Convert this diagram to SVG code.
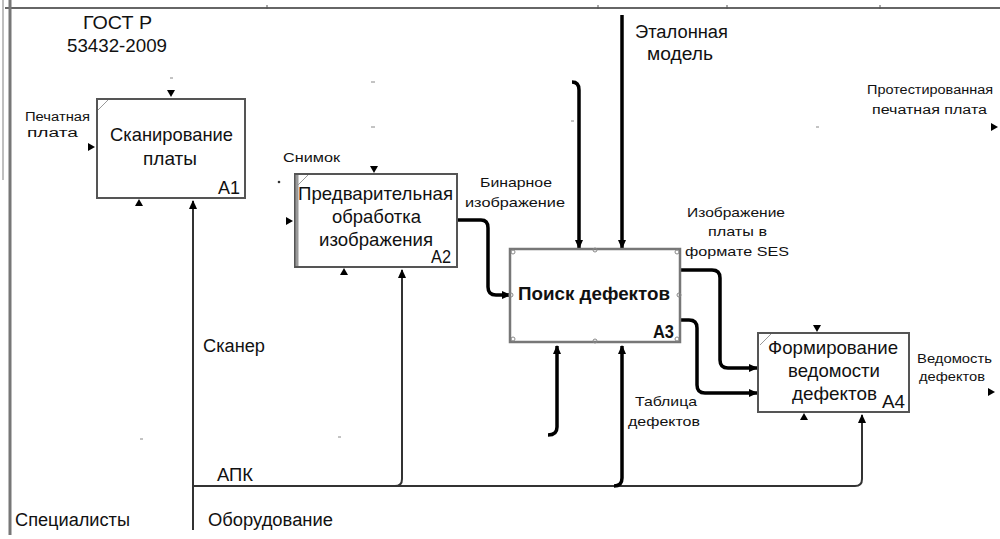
<svg xmlns="http://www.w3.org/2000/svg" width="1000" height="539" viewBox="0 0 1000 539">
<style>
text{font-family:"Liberation Sans",Arial,sans-serif;fill:#111}
.box{fill:#fff;stroke:#555;stroke-width:2}
.bt{font-size:19px}
.lbl{font-size:13px}
.sm{font-size:12.5px}
.mid{font-size:18px}
.thin{fill:none;stroke:#333;stroke-width:2}
.thick{fill:none;stroke:#000;stroke-width:3.5}
.dash{stroke:#888;stroke-width:1}
</style>
<defs>
<marker id="ah" markerUnits="userSpaceOnUse" markerWidth="9" markerHeight="8" refX="8" refY="4" orient="auto"><path d="M0,0 L9,4 L0,8 z" fill="#000"/></marker>
<path id="tri" d="M-4,-7 L4,-7 L0,0 z" fill="#000"/>
</defs>
<rect width="1000" height="539" fill="#fff"/>
<g id="frame">
<path d="M5,8 H1000" stroke="#666" stroke-width="2"/>
<path d="M10,0 V535" stroke="#777" stroke-width="3"/>
<path d="M3,0 V180" stroke="#aaa" stroke-width="1.5"/>
<path d="M267,5 V9 M598,5 V9 M727,5 V9 M880,5 V9" stroke="#555" stroke-width="1"/>
</g>
<g id="connectors">
<path class="thin" d="M193,530 V201" marker-end="url(#ah)"/>
<path class="thin" d="M193,486 H855 Q862,486 862,479 V415" marker-end="url(#ah)"/>
<path class="thin" d="M395,486 Q402,486 402,479 V270" marker-end="url(#ah)"/>
<path class="thick" d="M614,486 Q622,486 622,478 V346" marker-end="url(#ah)"/>
<path class="thick" d="M548,435 Q557,435 557,427 V346" marker-end="url(#ah)"/>
<path class="thick" d="M572,82 Q579,82 579,90 V248" marker-end="url(#ah)"/>
<path class="thick" d="M622,15 V248" marker-end="url(#ah)"/>
<path class="thick" d="M457,220 H481 Q488,220 488,228 V287 Q488,295 496,295 H510" marker-end="url(#ah)"/>
<path class="thick" d="M680,270 H712 Q720,270 720,278 V360 Q720,368 728,368 H757" marker-end="url(#ah)"/>
<path class="thick" d="M680,320 H689 Q697,320 697,328 V385 Q697,393 705,393 H757" marker-end="url(#ah)"/>
<use href="#tri" x="171" y="97"/>
<use href="#tri" transform="translate(95,147) rotate(-90)"/>
<use href="#tri" transform="translate(139,199) rotate(180)"/>
<use href="#tri" x="374" y="173"/>
<use href="#tri" transform="translate(293,221) rotate(-90)"/>
<use href="#tri" transform="translate(344,268) rotate(180)"/>
<use href="#tri" x="817" y="332"/>
<use href="#tri" transform="translate(804,413) rotate(180)"/>
<use href="#tri" transform="translate(998,127) rotate(-90)"/>
<use href="#tri" transform="translate(995,392) rotate(-90)"/>
<path class="dash" d="M170,78 H173 M371,82 H375 M371,127 H375 M816,127 H819 M140,439 H143 M338,437 H341 M571,121 H574"/>
<circle cx="279" cy="182" r="1.3" fill="#333"/>
</g>
<g id="A1">
<rect class="box" x="97" y="99" width="148" height="99"/>
<path d="M98,110 L108,100" stroke="#999" stroke-width="1"/>
<text class="bt" x="110" y="141" textLength="123" lengthAdjust="spacingAndGlyphs">Сканирование</text>
<text class="bt" x="143" y="165" textLength="54" lengthAdjust="spacingAndGlyphs">платы</text>
<text class="bt" x="218" y="194" textLength="22" lengthAdjust="spacingAndGlyphs">A1</text>
</g>
<g id="A2">
<rect class="box" x="295" y="174" width="162" height="93"/>
<path d="M297,175 V266" stroke="#999" stroke-width="3"/>
<path d="M297,186 L308,175" stroke="#999" stroke-width="1"/>
<text class="bt" x="298" y="200" textLength="155" lengthAdjust="spacingAndGlyphs">Предварительная</text>
<text class="bt" x="332" y="223" textLength="89" lengthAdjust="spacingAndGlyphs">обработка</text>
<text class="bt" x="319" y="246" textLength="114" lengthAdjust="spacingAndGlyphs">изображения</text>
<text class="bt" x="431" y="263" textLength="20" lengthAdjust="spacingAndGlyphs">A2</text>
</g>
<g id="A3">
<rect x="510" y="249" width="170" height="93" fill="#fff" stroke="#777" stroke-width="2.5"/>
<g fill="none" stroke="#888" stroke-width="1">
<circle cx="513" cy="252" r="2"/><circle cx="677" cy="252" r="2"/><circle cx="513" cy="339" r="2"/><circle cx="677" cy="339" r="2"/>
<circle cx="595" cy="250" r="2"/><circle cx="595" cy="341" r="2"/><circle cx="511" cy="295" r="2"/><circle cx="679" cy="295" r="2"/>
</g>
<text x="518" y="300" font-size="18" font-weight="bold" textLength="152" lengthAdjust="spacingAndGlyphs">Поиск дефектов</text>
<text x="653" y="338" font-size="18" font-weight="bold" textLength="21" lengthAdjust="spacingAndGlyphs">A3</text>
</g>
<g id="A4">
<rect class="box" x="758" y="333" width="151" height="79"/>
<path d="M760,345 L771,334" stroke="#999" stroke-width="1"/>
<text class="bt" x="768" y="354" textLength="130" lengthAdjust="spacingAndGlyphs">Формирование</text>
<text class="bt" x="788" y="377" textLength="92" lengthAdjust="spacingAndGlyphs">ведомости</text>
<text class="bt" x="792" y="400" textLength="85" lengthAdjust="spacingAndGlyphs">дефектов</text>
<text class="bt" x="882" y="408" textLength="23" lengthAdjust="spacingAndGlyphs">A4</text>
</g>
<g id="labels">
<text class="mid" x="83" y="29" textLength="69" lengthAdjust="spacingAndGlyphs">ГОСТ Р</text>
<text class="mid" x="67" y="52" textLength="100" lengthAdjust="spacingAndGlyphs">53432-2009</text>
<text class="sm" x="25" y="121" textLength="65" lengthAdjust="spacingAndGlyphs">Печатная</text>
<text class="sm" x="27" y="137" textLength="51" lengthAdjust="spacingAndGlyphs">плата</text>
<text class="lbl" x="283" y="162" textLength="57" lengthAdjust="spacingAndGlyphs">Снимок</text>
<text class="lbl" x="480" y="187" textLength="72" lengthAdjust="spacingAndGlyphs">Бинарное</text>
<text class="lbl" x="465" y="207" textLength="100" lengthAdjust="spacingAndGlyphs">изображение</text>
<text class="mid" x="635" y="38" textLength="93" lengthAdjust="spacingAndGlyphs">Эталонная</text>
<text class="mid" x="647" y="60" textLength="66" lengthAdjust="spacingAndGlyphs">модель</text>
<text class="sm" x="867" y="94" textLength="126" lengthAdjust="spacingAndGlyphs">Протестированная</text>
<text class="sm" x="872" y="114" textLength="115" lengthAdjust="spacingAndGlyphs">печатная плата</text>
<text class="lbl" x="687" y="217" textLength="98" lengthAdjust="spacingAndGlyphs">Изображение</text>
<text class="lbl" x="708" y="236" textLength="59" lengthAdjust="spacingAndGlyphs">платы в</text>
<text class="lbl" x="685" y="256" textLength="104" lengthAdjust="spacingAndGlyphs">формате SES</text>
<text class="lbl" x="635" y="406" textLength="62" lengthAdjust="spacingAndGlyphs">Таблица</text>
<text class="lbl" x="628" y="426" textLength="72" lengthAdjust="spacingAndGlyphs">дефектов</text>
<text class="sm" x="917" y="363" textLength="75" lengthAdjust="spacingAndGlyphs">Ведомость</text>
<text class="sm" x="919" y="381" textLength="66" lengthAdjust="spacingAndGlyphs">дефектов</text>
<text class="mid" x="203" y="352" textLength="62" lengthAdjust="spacingAndGlyphs">Сканер</text>
<text class="mid" x="217" y="481" textLength="36" lengthAdjust="spacingAndGlyphs">АПК</text>
<text class="mid" x="15" y="526" textLength="115" lengthAdjust="spacingAndGlyphs">Специалисты</text>
<text class="mid" x="208" y="526" textLength="125" lengthAdjust="spacingAndGlyphs">Оборудование</text>
</g>
</svg>
